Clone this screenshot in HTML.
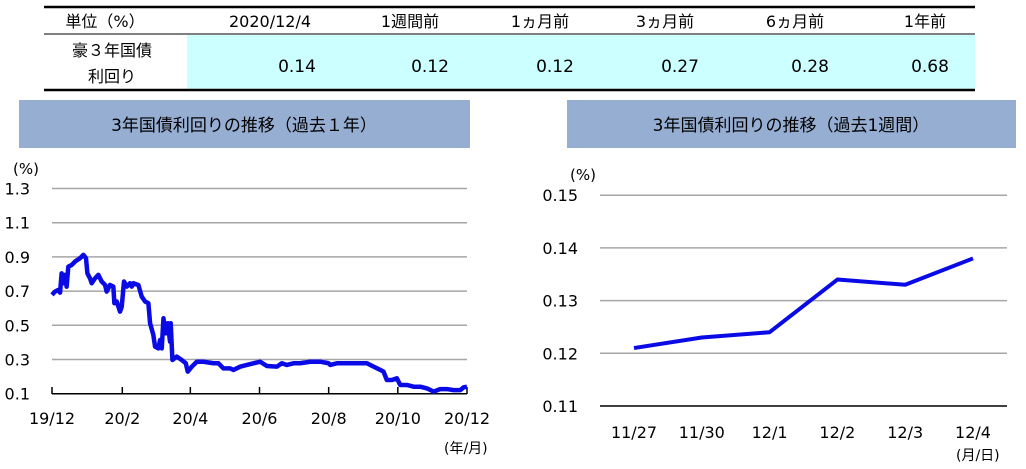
<!DOCTYPE html>
<html><head><meta charset="utf-8"><style>
body{margin:0;width:1026px;height:465px;background:#fff;overflow:hidden;font-family:"DejaVu Sans","Noto Sans CJK JP",sans-serif}
svg text{font-family:"DejaVu Sans","Noto Sans CJK JP",sans-serif}
</style></head><body>
<svg id="s" width="1026" height="465">
<g>
<rect x="187" y="35" width="788" height="54" fill="#ccffff"/>
<line x1="44" y1="7" x2="975" y2="7" stroke="#000" stroke-width="2.5"/>
<line x1="44" y1="34" x2="975" y2="34" stroke="#000" stroke-width="1"/>
<line x1="44" y1="90" x2="975" y2="90" stroke="#000" stroke-width="2.5"/>
<g font-size="16" fill="#000" text-anchor="middle">
<text x="105" y="27">単位（%）</text>
<text x="270" y="27">2020/12/4</text>
<text x="410" y="27">1週間前</text>
<text x="540" y="27">1ヵ月前</text>
<text x="665" y="27">3ヵ月前</text>
<text x="795" y="27">6ヵ月前</text>
<text x="925" y="27">1年前</text>
<text x="112" y="56">豪３年国債</text>
<text x="112" y="82">利回り</text>
</g>
<g font-size="17" fill="#000" text-anchor="middle">
<text x="297" y="72">0.14</text>
<text x="430" y="72">0.12</text>
<text x="555" y="72">0.12</text>
<text x="680" y="72">0.27</text>
<text x="810" y="72">0.28</text>
<text x="930" y="72">0.68</text>
</g></g>
<rect x="19" y="100" width="451" height="48" fill="#97aed3"/>
<text x="244" y="131" font-size="17" text-anchor="middle">3年国債利回りの推移（過去１年）</text>
<rect x="567" y="100" width="449" height="48" fill="#97aed3"/>
<text x="791" y="131" font-size="17" text-anchor="middle">3年国債利回りの推移（過去1週間）</text>
<g id="left"></g>
<g id="right"></g>
</svg>
<script>
const yDays=[0,2.6,5.6,7.1,8.5,10,11.5,12.9,14.4,17.4,20.3,24.7,27.7,30,31.2,33.5,35,38,40.9,43.8,46.8,48.2,51.2,54.1,55,57.1,60,61.5,63.5,65.9,68.8,70.3,71.8,76.2,79.1,82.1,85,86.5,89.4,90.9,93.8,95.3,96.8,98.3,100.3,102.1,104.1,104.7,106.2,110,114.4,118,119.7,123.3,127.7,133.6,142.4,146.8,151.2,157.1,160,165.9,171.8,177.7,183.6,189.5,198.3,202.7,207.1,213,218.9,227.7,236.5,243.9,245.4,251.2,260.1,268.9,277.7,283.6,289.5,292.4,295.3,299.8,304.2,307.1,313,318.9,324.8,330.7,336.6,342.4,348.3,354.2,360.1,363,366];
const yVals=[0.678,0.697,0.707,0.691,0.804,0.746,0.795,0.726,0.843,0.853,0.873,0.892,0.912,0.892,0.804,0.775,0.746,0.775,0.795,0.756,0.736,0.697,0.736,0.726,0.629,0.639,0.580,0.609,0.756,0.726,0.746,0.726,0.746,0.736,0.668,0.639,0.629,0.512,0.443,0.375,0.365,0.414,0.365,0.541,0.453,0.512,0.404,0.512,0.297,0.317,0.297,0.278,0.229,0.258,0.287,0.287,0.278,0.278,0.248,0.248,0.239,0.258,0.268,0.278,0.287,0.262,0.258,0.278,0.268,0.278,0.278,0.287,0.287,0.278,0.268,0.278,0.278,0.278,0.278,0.258,0.239,0.229,0.180,0.180,0.190,0.151,0.151,0.141,0.141,0.131,0.112,0.127,0.127,0.121,0.121,0.137,0.141];
const yTicks=[0.1,0.3,0.5,0.7,0.9,1.1,1.3];
const xTickLabels=["19/12","20/2","20/4","20/6","20/8","20/10","20/12"];
const xTickDays=[0,62,122,183,244,305,366];
const wCats=["11/27","11/30","12/1","12/2","12/3","12/4"];
const wVals=[0.121,0.123,0.124,0.134,0.133,0.138];
const wTicks=[0.11,0.12,0.13,0.14,0.15];
const NS="http://www.w3.org/2000/svg";
function mk(p,t,a,txt){const e=document.createElementNS(NS,t);for(const k in a)e.setAttribute(k,a[k]);if(txt!==undefined)e.textContent=txt;p.appendChild(e);return e;}
const L=document.getElementById('left');
const lx=d=>52+d/366*415, ly=v=>393.7-(v-0.1)/0.2*34.2;
yTicks.forEach((t,i)=>{
 if(i>0){const g=mk(L,'line',{x1:52,x2:467,y1:ly(t),y2:ly(t),stroke:'#a6a6a6','stroke-width':1.5});
 
 }
 const tx=mk(L,'text',{x:30,y:ly(t)+6,'font-size':16,'text-anchor':'end'},t.toFixed(1));
 
 
});
const ax=mk(L,'line',{x1:52,x2:467,y1:393.7,y2:393.7,stroke:'#000','stroke-width':1.5});


xTickDays.forEach((d,i)=>{
 const tk=mk(L,'line',{x1:lx(d),x2:lx(d),y1:387,y2:394,stroke:'#000','stroke-width':1.5});
 
 
 const tx=mk(L,'text',{x:lx(d),y:424,'font-size':16,'text-anchor':'middle'},xTickLabels[i]);
 
 
});
const lp=mk(L,'polyline',{points:yDays.map((d,i)=>lx(d)+','+ly(yVals[i])).join(' '),fill:'none',stroke:'#0a0ae6','stroke-width':4.5,'stroke-linejoin':'round'});


let u=mk(L,'text',{x:13,y:174,'font-size':15},'(%)');


u=mk(L,'text',{x:444,y:453,'font-size':14},'(年/月)');


const R=document.getElementById('right');
const rx=i=>634+i*67.8, ry=v=>406-(v-0.11)/0.01*52.7;
wTicks.forEach((t,i)=>{
 const g=mk(R,'line',{x1:600,x2:1007,y1:ry(t),y2:ry(t),stroke:i==0?'#000':'#a6a6a6','stroke-width':1.5});
 
 
 const tx=mk(R,'text',{x:578,y:ry(t)+6,'font-size':16,'text-anchor':'end'},t.toFixed(2));
 
 
});
wCats.forEach((c,i)=>{
 const tx=mk(R,'text',{x:rx(i),y:438,'font-size':16,'text-anchor':'middle'},c);
 
 
});
const rp=mk(R,'polyline',{points:wVals.map((v,i)=>rx(i)+','+ry(v)).join(' '),fill:'none',stroke:'#0a0ae6','stroke-width':4,'stroke-linejoin':'round'});


u=mk(R,'text',{x:570,y:180,'font-size':15},'(%)');


u=mk(R,'text',{x:956,y:460,'font-size':14},'(月/日)');


</script>
</body></html>
